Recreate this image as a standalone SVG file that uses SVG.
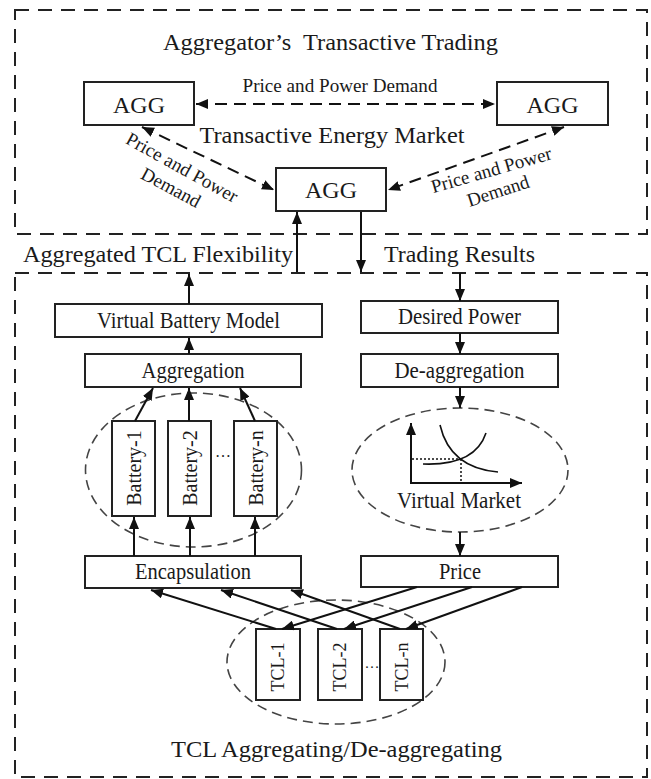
<svg xmlns="http://www.w3.org/2000/svg" width="651" height="779" viewBox="0 0 651 779">
<style>
  .frame { fill: none; stroke: #222; stroke-width: 2; stroke-dasharray: 14 9; }
  .box { fill: #fff; stroke: #222; stroke-width: 2; }
  .ell { fill: none; stroke: #444; stroke-width: 1.6; stroke-dasharray: 10 6; }
  .t { font-family: "Liberation Serif", "Times New Roman", serif; fill: #1a1a1a; }
  .c { text-anchor: middle; }
  .big { font-size: 24px; }
  .mid { font-size: 23px; }
  .lab { font-size: 19px; }
  .arr { fill: none; stroke: #111; stroke-width: 2; marker-end: url(#ah); }
  .darr { fill: none; stroke: #111; stroke-width: 2; stroke-dasharray: 12 7; marker-start: url(#ah); marker-end: url(#ah); }
  .dot { fill: none; stroke: #111; stroke-width: 1.5; stroke-dasharray: 2 2; }
  .curve { fill: none; stroke: #111; stroke-width: 1.6; }
</style>
<defs>
  <marker id="ah" viewBox="0 0 12 10" refX="12" refY="5" markerWidth="12" markerHeight="10" markerUnits="userSpaceOnUse" orient="auto-start-reverse">
    <path d="M0,0 L12,5 L0,10 z" fill="#111" stroke="none"/>
  </marker>
</defs>
<rect width="651" height="779" fill="#fff"/>

<!-- frames -->
<g id="top-frame">
  <rect class="frame" x="15" y="10" width="632" height="224"/>
  <text class="t big c" x="330.5" y="50" textLength="335" lengthAdjust="spacingAndGlyphs" xml:space="preserve">Aggregator’s  Transactive Trading</text>
  <text class="t big c" x="332" y="143" textLength="265" lengthAdjust="spacingAndGlyphs">Transactive Energy Market</text>
</g>
<g id="bottom-frame">
  <rect class="frame" x="15" y="273" width="632" height="504"/>
  <text class="t big c" x="336.5" y="757" font-size="25" textLength="331" lengthAdjust="spacingAndGlyphs">TCL Aggregating/De-aggregating</text>
</g>

<!-- AGG nodes -->
<g id="agg-left">
  <rect class="box" x="84" y="82" width="110" height="43"/>
  <text class="t big c" x="139" y="113">AGG</text>
</g>
<g id="agg-right">
  <rect class="box" x="497" y="82" width="111" height="43"/>
  <text class="t big c" x="552.5" y="113">AGG</text>
</g>
<g id="agg-center">
  <rect class="box" x="276" y="168" width="110" height="43"/>
  <text class="t big c" x="331" y="198">AGG</text>
</g>

<!-- left column -->
<g id="vbm">
  <rect class="box" x="55" y="304" width="267" height="33"/>
  <text class="t mid c" x="188.5" y="328" textLength="183" lengthAdjust="spacingAndGlyphs">Virtual Battery Model</text>
</g>
<g id="aggregation">
  <rect class="box" x="85" y="354" width="216" height="33"/>
  <text class="t mid c" x="193" y="378" textLength="103" lengthAdjust="spacingAndGlyphs">Aggregation</text>
</g>
<g id="battery-group">
  <ellipse class="ell" cx="193.5" cy="470" rx="108" ry="77"/>
  <text class="t c" x="223" y="457" font-size="16">…</text>
</g>
<g id="battery-1">
  <rect class="box" x="112" y="421" width="43" height="95"/>
  <text class="t c" font-size="20" transform="translate(141,468) rotate(-90)">Battery-1</text>
</g>
<g id="battery-2">
  <rect class="box" x="168" y="421" width="43" height="95"/>
  <text class="t c" font-size="20" transform="translate(197,468) rotate(-90)">Battery-2</text>
</g>
<g id="battery-n">
  <rect class="box" x="234" y="421" width="43" height="95"/>
  <text class="t c" font-size="20" transform="translate(263,468) rotate(-90)">Battery-n</text>
</g>
<g id="encapsulation">
  <rect class="box" x="85" y="556" width="216" height="32"/>
  <text class="t mid c" x="193" y="579" textLength="116" lengthAdjust="spacingAndGlyphs">Encapsulation</text>
</g>

<!-- right column -->
<g id="desired-power">
  <rect class="box" x="361" y="301" width="197" height="32"/>
  <text class="t mid c" x="459.5" y="324" textLength="123" lengthAdjust="spacingAndGlyphs">Desired Power</text>
</g>
<g id="de-aggregation">
  <rect class="box" x="361" y="354" width="197" height="33"/>
  <text class="t mid c" x="459.5" y="378" textLength="130" lengthAdjust="spacingAndGlyphs">De-aggregation</text>
</g>
<g id="virtual-market">
  <ellipse class="ell" cx="460" cy="470" rx="108" ry="62"/>
  <path class="arr" d="M411,484 L411,423"/>
  <path class="arr" d="M410,483 L522,483"/>
  <path class="curve" d="M440,425 Q450,468 498,472"/>
  <path class="curve" d="M423,464 Q475,466 486,433"/>
  <path class="dot" d="M412,459 L461,459 M461,459 L461,483"/>
  <text class="t mid c" x="459" y="508" textLength="124" lengthAdjust="spacingAndGlyphs">Virtual Market</text>
</g>
<g id="price">
  <rect class="box" x="361" y="556" width="197" height="31"/>
  <text class="t mid c" x="460" y="579" textLength="42" lengthAdjust="spacingAndGlyphs">Price</text>
</g>

<!-- TCLs -->
<g id="tcl-group">
  <ellipse class="ell" cx="336" cy="662" rx="109" ry="62"/>
  <text class="t c" x="372" y="668" font-size="15">…</text>
</g>
<g id="tcl-1">
  <rect class="box" x="256" y="629" width="44" height="71"/>
  <text class="t c" font-size="18" transform="translate(284,667) rotate(-90)">TCL-1</text>
</g>
<g id="tcl-2">
  <rect class="box" x="318" y="629" width="44" height="71"/>
  <text class="t c" font-size="18" transform="translate(346,667) rotate(-90)">TCL-2</text>
</g>
<g id="tcl-n">
  <rect class="box" x="380" y="629" width="43" height="71"/>
  <text class="t c" font-size="18" transform="translate(408,667) rotate(-90)">TCL-n</text>
</g>

<!-- connectors -->
<g id="connectors">
  <path class="darr" d="M196,104 L495,104"/>
  <path class="darr" d="M142,127 L274,190"/>
  <path class="darr" d="M564,127 L388,190"/>
  <text class="t lab c" x="340" y="92" textLength="195" lengthAdjust="spacingAndGlyphs">Price and Power Demand</text>
  <text class="t lab c" transform="translate(179,173) rotate(29)">Price and Power</text>
  <text class="t lab c" transform="translate(168,193) rotate(28)">Demand</text>
  <text class="t lab c" transform="translate(493,176) rotate(-16)">Price and Power</text>
  <text class="t lab c" transform="translate(500,197) rotate(-18)">Demand</text>

  <path class="arr" d="M297,272 L297,212"/>
  <path class="arr" d="M361,212 L361,272"/>
  <text class="t big" x="23" y="262" textLength="270" lengthAdjust="spacingAndGlyphs">Aggregated TCL Flexibility</text>
  <text class="t big" x="384" y="262" textLength="151" lengthAdjust="spacingAndGlyphs">Trading Results</text>

  <path class="arr" d="M189,304 L189,274"/>
  <path class="arr" d="M189,354 L189,338"/>
  <path class="arr" d="M135,421 L153,388"/>
  <path class="arr" d="M189,421 L189,388"/>
  <path class="arr" d="M255,421 L240,388"/>
  <path class="arr" d="M134,556 L134,517"/>
  <path class="arr" d="M190,556 L190,517"/>
  <path class="arr" d="M255,556 L255,517"/>

  <path class="arr" d="M460,273 L460,301"/>
  <path class="arr" d="M460,333 L460,354"/>
  <path class="arr" d="M460,387 L460,408"/>
  <path class="arr" d="M460,532 L460,556"/>

  <path class="arr" d="M276,629 L151,590"/>
  <path class="arr" d="M337,629 L221,590"/>
  <path class="arr" d="M400,629 L291,590"/>
  <path class="arr" d="M417,587 L282,629"/>
  <path class="arr" d="M472,587 L344,629"/>
  <path class="arr" d="M522,587 L406,629"/>
</g>
</svg>
